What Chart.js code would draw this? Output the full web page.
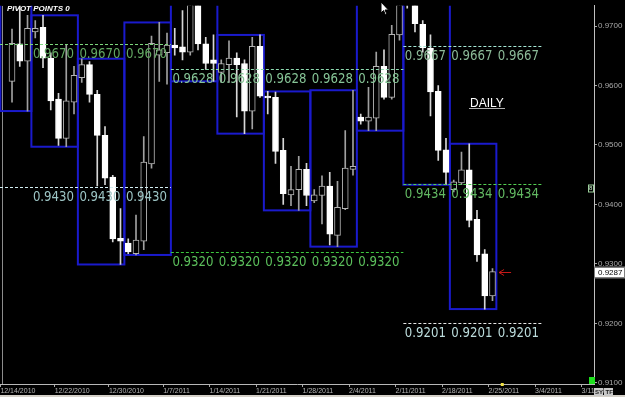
<!DOCTYPE html>
<html>
<head>
<meta charset="utf-8">
<script src="https://cdn.jsdelivr.net/npm/chart.js@4.4.1/dist/chart.umd.min.js"></script>
<style>
html, body { margin: 0; padding: 0; background: #000; }
#wrap { width: 625px; height: 397px; }
</style>
</head>
<body>
<div id="wrap"><canvas id="chart" width="625" height="397"></canvas></div>
<script>
// daily candles, slot 0 = 12/15/2010 ... slot 62 = 2/25/2011 (sunday sessions included)
const candleOpen = [
    0.9607, 0.9670, 0.9641, 0.9690, 0.9698, 0.9646, 0.9577, 0.9511, 0.9572,
    0.9613, 0.9635, 0.9585, 0.9516, 0.9446, 0.9343,
    0.9335, 0.9317, 0.9338, 0.9468, 0.9651, 0.9655,
    0.9668, 0.9665, 0.9656, 0.9743, 0.9670, 0.9643,
    0.9622, 0.9635, 0.9646, 0.9637, 0.9557, 0.9666,
    0.9582, 0.9580, 0.9491, 0.9416, 0.9425, 0.9459,
    0.9406, 0.9415, 0.9431, 0.9348, 0.9393, 0.9459,
    0.9547, 0.9540, 0.9545, 0.9632, 0.9580, 0.9685,
    0.9744, 0.9737, 0.9703, 0.9663, 0.9590, 0.9492,
    0.9425, 0.9436, 0.9458, 0.9375, 0.9317, 0.9246
];
const candleHigh = [
    0.9695, 0.9740, 0.9718, 0.9709, 0.9718, 0.9655, 0.9587, 0.9668, 0.9632,
    0.9645, 0.9640, 0.9592, 0.9531, 0.9449, 0.9393,
    0.9342, 0.9382, 0.9514, 0.9683, 0.9706, 0.9688,
    0.9696, 0.9726, 0.9751, 0.9759, 0.9681, 0.9685,
    0.9643, 0.9675, 0.9655, 0.9643, 0.9681, 0.9685,
    0.9590, 0.9589, 0.9511, 0.9464, 0.9481, 0.9469,
    0.9425, 0.9448, 0.9454, 0.9439, 0.9524, 0.9592,
    0.9552, 0.9597, 0.9656, 0.9660, 0.9701, 0.9754,
    0.9748, 0.9743, 0.9709, 0.9685, 0.9600, 0.9511,
    0.9441, 0.9488, 0.9502, 0.9390, 0.9324, 0.9292
];
const candleLow = [
    0.9572, 0.9632, 0.9557, 0.9680, 0.9630, 0.9559, 0.9499, 0.9497, 0.9552,
    0.9605, 0.9572, 0.9431, 0.9433, 0.9337, 0.9299,
    0.9317, 0.9315, 0.9324, 0.9461, 0.9607, 0.9602,
    0.9651, 0.9643, 0.9651, 0.9660, 0.9627, 0.9607,
    0.9605, 0.9605, 0.9547, 0.9519, 0.9527, 0.9580,
    0.9552, 0.9469, 0.9400, 0.9398, 0.9390, 0.9398,
    0.9403, 0.9367, 0.9332, 0.9329, 0.9391, 0.9449,
    0.9535, 0.9524, 0.9524, 0.9577, 0.9577, 0.9676,
    0.9730, 0.9690, 0.9656, 0.9549, 0.9474, 0.9433,
    0.9421, 0.9433, 0.9362, 0.9304, 0.9224, 0.9238
];
const candleClose = [
    0.9671, 0.9641, 0.9696, 0.9696, 0.9646, 0.9574, 0.9511, 0.9574, 0.9617,
    0.9635, 0.9585, 0.9516, 0.9444, 0.9342, 0.9338,
    0.9320, 0.9340, 0.9471, 0.9671, 0.9660, 0.9668,
    0.9663, 0.9656, 0.9739, 0.9670, 0.9637, 0.9637,
    0.9637, 0.9646, 0.9635, 0.9557, 0.9666, 0.9582,
    0.9579, 0.9489, 0.9418, 0.9425, 0.9459, 0.9415,
    0.9416, 0.9431, 0.9350, 0.9395, 0.9461, 0.9464,
    0.9540, 0.9547, 0.9632, 0.9580, 0.9686, 0.9743,
    0.9739, 0.9704, 0.9663, 0.9589, 0.9491, 0.9454,
    0.9438, 0.9458, 0.9373, 0.9315, 0.9246, 0.9287
];

// axis ticks
const xTickPos = [-1.5, 5.5, 12.5, 19.5, 25.5, 31.5, 37.5, 43.5, 49.5, 55.5, 61.5, 67.5, 73.5];
const xTickLabels = ['12/14/2010', '12/22/2010', '12/30/2010', '1/7/2011', '1/14/2011', '1/21/2011',
    '1/28/2011', '2/4/2011', '2/11/2011', '2/18/2011', '2/25/2011', '3/4/2011', '3/11/2011'];
const yTicks = [0.91, 0.92, 0.93, 0.94, 0.95, 0.96, 0.97];

// week boundaries (sunday to friday) for the range boxes
const weekEdges = [-1.5, 2.5, 8.5, 14.5, 20.5, 26.5, 32.5, 38.5, 44.5, 50.5, 56.5, 62.5, 68.5];

// pivot levels per month
const pivotFrom = [-1.55, 20.5, 50.5];
const pivotTo = [20.5, 50.5, 68.5];
const pivotDec = [0.9670, 0.9430];
const pivotJan = [0.9628, 0.9320];
const pivotFeb = [0.9667, 0.9434, 0.9201];
const pivotLevels = [pivotDec, pivotJan, pivotFeb];

const lastPrice = 0.9287;

// colori
const lineColors = [['#7cd67c', '#d2eef2'], ['#8edcb0', '#3cc83c'], ['#a6e8d6', '#52d052', '#e8e8e8']];
const textColors = [['#63a863', '#9cc4c4'], ['#86c496', '#5cc05c'], ['#8cba98', '#62b862', '#bcdcdc']];

const isUp = candleOpen.map((o, i) => candleClose[i] >= o);

const overlay = {
    id: 'overlay',
    beforeDraw(chart) {
        const c = chart.ctx;
        c.save();
        c.fillStyle = '#000';
        c.fillRect(0, 0, chart.width, chart.height);
        c.restore();
    },
    beforeDatasetsDraw(chart) {
        const c = chart.ctx, x = chart.scales.x, y = chart.scales.y, a = chart.chartArea;
        c.save();
        c.beginPath();
        c.rect(a.left, a.top, a.right - a.left, a.bottom - a.top);
        c.clip();
        // separator at first date
        c.strokeStyle = '#8c8c8c';
        c.lineWidth = 1;
        c.beginPath();
        c.moveTo(2.5, a.top);
        c.lineTo(2.5, a.bottom);
        c.stroke();
        // weekly range boxes
        c.strokeStyle = '#1a1acc';
        c.lineWidth = 2;
        for (let w = 0; w < weekEdges.length - 1; w++) {
            let hi = -Infinity, lo = Infinity;
            candleHigh.forEach((h, i) => {
                if (i > weekEdges[w] && i < weekEdges[w + 1]) {
                    hi = Math.max(hi, h);
                    lo = Math.min(lo, candleLow[i]);
                }
            });
            if (hi === -Infinity) continue;
            const l = x.getPixelForValue(weekEdges[w]), r = x.getPixelForValue(weekEdges[w + 1]);
            const t = y.getPixelForValue(hi), b = y.getPixelForValue(lo);
            c.strokeRect(l, t, r - l, b - t);
        }
        c.restore();
    },
    afterDatasetsDraw(chart) {
        const c = chart.ctx, x = chart.scales.x, y = chart.scales.y, a = chart.chartArea;
        c.save();
        c.beginPath();
        c.rect(a.left, a.top, a.right - a.left, a.bottom - a.top);
        c.clip();
        pivotLevels.forEach((levels, m) => {
            const x0 = x.getPixelForValue(pivotFrom[m]), x1 = x.getPixelForValue(pivotTo[m]);
            levels.forEach((lv, k) => {
                const py = Math.round(y.getPixelForValue(lv)) + 0.5;
                c.strokeStyle = lineColors[m][k];
                c.lineWidth = 1;
                c.setLineDash([3, 2]);
                c.beginPath();
                c.moveTo(x0, py);
                c.lineTo(x1, py);
                c.stroke();
                c.setLineDash([]);
                // one label per week
                c.fillStyle = textColors[m][k];
                c.font = '14px "DejaVu Sans"';
                c.textBaseline = 'alphabetic';
                weekEdges.forEach(e => {
                    if (e <= -1.5 || e < pivotFrom[m] || e >= pivotTo[m]) return;
                    c.save();
                    c.translate(x.getPixelForValue(e) + 1.5, py + 13.5);
                    c.scale(0.84, 1);
                    c.fillText(lv.toFixed(4), 0, 0);
                    c.restore();
                });
            });
        });
        c.restore();
    },
    afterDraw(chart) {
        const c = chart.ctx, x = chart.scales.x, y = chart.scales.y;
        c.save();
        // title
        c.fillStyle = '#fff';
        c.font = 'bold italic 8px "Liberation Sans"';
        c.textBaseline = 'alphabetic';
        c.fillText('PIVOT POINTS 0', 7, 11);
        // timeframe
        c.font = '12px "Liberation Sans"';
        c.fillText('DAILY', 470, 107);
        c.fillStyle = '#b0b0b0';
        c.fillRect(469, 108, 36, 1);
        // last price arrow
        const py = Math.round(y.getPixelForValue(lastPrice)) + 0.5;
        const ax = x.getPixelForValue(62.85);
        c.strokeStyle = '#c41818';
        c.lineWidth = 1;
        c.beginPath();
        c.moveTo(ax, py);
        c.lineTo(ax + 12, py);
        c.moveTo(ax, py);
        c.lineTo(ax + 5, py - 3);
        c.moveTo(ax, py);
        c.lineTo(ax + 5, py + 3);
        c.stroke();
        // price tag
        c.fillStyle = '#fff';
        c.fillRect(595, py - 5, 29, 10);
        c.strokeStyle = '#808080';
        c.strokeRect(594.5, py - 5.5, 30, 11);
        c.fillStyle = '#000';
        c.font = '8px "Liberation Sans"';
        c.textBaseline = 'middle';
        c.fillText(lastPrice.toFixed(4), 598, py + 0.5);
        // pivot marker
        const my = Math.round(y.getPixelForValue(pivotFeb[1])) + 4.5;
        c.strokeStyle = '#9ccf9c';
        c.strokeRect(588.5, my - 3.5, 5, 7);
        c.fillStyle = '#d0f0d0';
        c.font = '6px "Liberation Sans"';
        c.fillText('8', 589, my);
        // green status box
        c.fillStyle = '#1ee01e';
        c.fillRect(589, 377, 6, 7);
        // yellow marker on time axis
        c.fillStyle = '#f0e040';
        c.fillRect(x.getPixelForValue(63.2) - 1, 383, 3, 3);
        // bottom strip
        c.fillStyle = '#d4d0c8';
        c.fillRect(0, 395, 625, 2);
        // buttons
        c.fillStyle = '#c8c8c8';
        c.fillRect(594, 388, 9, 8);
        c.fillRect(604, 388, 9, 8);
        c.fillStyle = '#202020';
        c.font = 'bold 6px "Liberation Sans"';
        c.textBaseline = 'middle';
        c.fillText('SY', 595, 392);
        c.fillText('TF', 605.5, 392);
        // mouse cursor
        c.fillStyle = '#fff';
        c.strokeStyle = '#000';
        c.beginPath();
        c.moveTo(381, 2);
        c.lineTo(381, 13);
        c.lineTo(383.5, 10.5);
        c.lineTo(385.5, 15);
        c.lineTo(387, 14.3);
        c.lineTo(385, 10);
        c.lineTo(388.5, 10);
        c.closePath();
        c.fill();
        c.stroke();
        c.restore();
    }
};

const ctx = document.getElementById('chart').getContext('2d');
new Chart(ctx, {
    type: 'bar',
    data: {
        datasets: [
            {
                label: 'body',
                data: candleOpen.map((o, i) => ({ x: i, y: [o, candleClose[i]] })),
                backgroundColor: isUp.map(u => u ? '#000000' : '#ffffff'),
                borderColor: isUp.map(u => u ? '#b4b4b4' : '#ffffff'),
                borderWidth: 1,
                borderSkipped: false,
                barThickness: 6,
                grouped: false,
                order: 0
            },
            {
                label: 'wick',
                data: candleLow.map((l, i) => ({ x: i, y: [l, candleHigh[i]] })),
                backgroundColor: isUp.map(u => u ? '#a0a0a0' : '#d6d6d6'),
                borderWidth: 0,
                barThickness: 1,
                grouped: false,
                order: 1
            }
        ]
    },
    options: {
        animation: false,
        responsive: false,
        maintainAspectRatio: false,
        layout: { padding: 0 },
        plugins: {
            legend: { display: false },
            tooltip: { enabled: false }
        },
        scales: {
            x: {
                type: 'linear',
                min: -1.55,
                max: 75.1,
                offset: false,
                grid: { display: true, offset: false, drawOnChartArea: false, drawTicks: true, tickLength: 3, color: '#a8a8a8' },
                border: { display: true, color: '#b8b8b8', width: 1 },
                ticks: {
                    autoSkip: false,
                    maxRotation: 0,
                    align: 'start',
                    padding: 0,
                    color: '#b4b4b4',
                    font: { family: 'Liberation Sans', size: 7 },
                    callback: (v, i) => xTickLabels[i]
                },
                afterBuildTicks: s => { s.ticks = xTickPos.map(v => ({ value: v })); },
                afterFit: s => { s.height = 13; }
            },
            y: {
                position: 'right',
                min: 0.9098,
                max: 0.9734,
                grid: { display: true, drawOnChartArea: false, drawTicks: true, tickLength: 3, color: '#a8a8a8' },
                border: { display: true, color: '#c0c0c0', width: 1 },
                ticks: {
                    padding: 1,
                    color: '#a8a8a8',
                    font: { family: 'Liberation Sans', size: 8 },
                    callback: v => v.toFixed(4)
                },
                afterBuildTicks: s => { s.ticks = yTicks.map(v => ({ value: v })); },
                afterFit: s => { s.width = 31; }
            }
        }
    },
    plugins: [overlay]
});
</script>
</body>
</html>
